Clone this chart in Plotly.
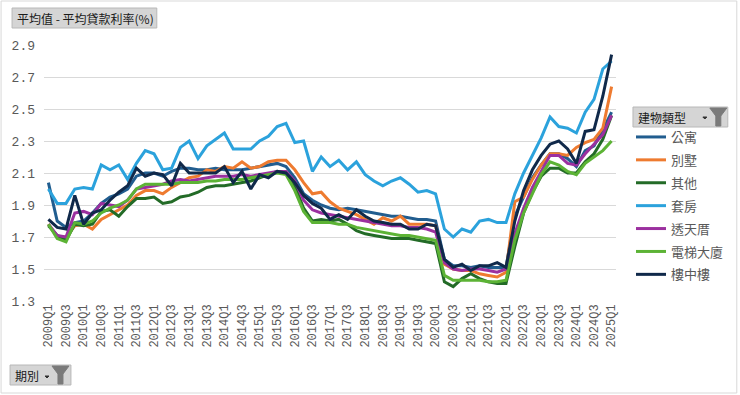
import plotly.graph_objects as go

quarters = [f"{y}Q{q}" for y in range(2009, 2026) for q in range(1, 5)][:65]
tick_labels = quarters[::2]

gongyu = [2.04, 1.80, 1.76, 1.79, 1.80, 1.85, 1.91, 1.95,
          1.97, 2.00, 2.08, 2.10, 2.10, 2.08, 2.11, 2.13,
          2.13, 2.12, 2.12, 2.13, 2.12, 2.12, 2.12, 2.13,
          2.14, 2.15, 2.16, 2.14, 2.07, 1.97, 1.93, 1.90,
          1.88, 1.87, 1.88, 1.87, 1.86, 1.85, 1.84, 1.83,
          1.83, 1.82, 1.81, 1.81, 1.80, 1.56, 1.52, 1.52,
          1.51, 1.52, 1.51, 1.51, 1.51, 1.83, 1.95, 2.07,
          2.15, 2.22, 2.22, 2.19, 2.14, 2.24, 2.27, 2.37,
          2.48]
bieshu = [1.78, 1.70, 1.70, 1.77, 1.78, 1.75, 1.81, 1.84,
          1.87, 1.90, 1.96, 1.99, 1.99, 1.97, 2.01, 2.04,
          2.07, 2.08, 2.12, 2.11, 2.14, 2.13, 2.17, 2.13,
          2.14, 2.17, 2.18, 2.18, 2.12, 2.04, 1.97, 1.98,
          1.92, 1.88, 1.86, 1.84, 1.81, 1.78, 1.82, 1.80,
          1.83, 1.78, 1.78, 1.78, 1.77, 1.53, 1.50, 1.49,
          1.49, 1.47, 1.46, 1.45, 1.48, 1.92, 1.95, 2.06,
          2.15, 2.22, 2.22, 2.21, 2.26, 2.29, 2.31, 2.38,
          2.64]
qita = [1.77, 1.71, 1.68, 1.78, 1.77, 1.78, 1.86, 1.87,
        1.83, 1.89, 1.94, 1.94, 1.95, 1.91, 1.92, 1.95,
        1.96, 1.98, 2.01, 2.02, 2.02, 2.03, 2.04, 2.05,
        2.07, 2.09, 2.11, 2.10, 2.02, 1.88, 1.80, 1.81,
        1.80, 1.81, 1.78, 1.74, 1.72, 1.71, 1.70, 1.69,
        1.69, 1.69, 1.68, 1.67, 1.66, 1.42, 1.39, 1.44,
        1.47, 1.44, 1.42, 1.41, 1.41, 1.64, 1.85, 1.98,
        2.08, 2.13, 2.13, 2.10, 2.10, 2.17, 2.22, 2.31,
        2.46]
taofang = [2.00, 1.91, 1.91, 2.00, 2.01, 2.00, 2.15, 2.12,
           2.15, 2.06, 2.16, 2.24, 2.22, 2.12, 2.13, 2.26,
           2.30, 2.19, 2.27, 2.31, 2.35, 2.25, 2.25, 2.25,
           2.30, 2.33, 2.39, 2.41, 2.29, 2.30, 2.11, 2.20,
           2.14, 2.18, 2.12, 2.17, 2.09, 2.05, 2.02, 2.05,
           2.07, 2.03, 1.98, 1.99, 1.97, 1.75, 1.70, 1.75,
           1.73, 1.80, 1.81, 1.79, 1.79, 1.97, 2.10, 2.21,
           2.32, 2.45, 2.39, 2.38, 2.35, 2.48, 2.56, 2.75,
           2.80]
toutiancuo = [1.78, 1.71, 1.70, 1.85, 1.86, 1.84, 1.91, 1.90,
              1.89, 1.93, 2.00, 2.01, 2.02, 2.03, 2.05, 2.06,
              2.05, 2.06, 2.07, 2.08, 2.08, 2.08, 2.09, 2.08,
              2.09, 2.10, 2.11, 2.11, 2.05, 1.93, 1.87, 1.85,
              1.84, 1.83, 1.82, 1.81, 1.80, 1.79, 1.78, 1.77,
              1.77, 1.76, 1.76, 1.75, 1.73, 1.54, 1.50, 1.49,
              1.50, 1.50, 1.49, 1.48, 1.50, 1.72, 1.88, 2.01,
              2.11, 2.21, 2.21, 2.16, 2.15, 2.22, 2.28, 2.34,
              2.46]
dianti = [1.78, 1.69, 1.67, 1.79, 1.78, 1.80, 1.85, 1.88,
          1.90, 1.93, 2.00, 2.03, 2.03, 2.03, 2.03, 2.04,
          2.04, 2.04, 2.05, 2.05, 2.06, 2.06, 2.06, 2.07,
          2.08, 2.09, 2.10, 2.09, 1.99, 1.86, 1.79, 1.79,
          1.79, 1.78, 1.78, 1.76, 1.75, 1.74, 1.73, 1.72,
          1.71, 1.71, 1.70, 1.69, 1.68, 1.46, 1.43, 1.43,
          1.43, 1.43, 1.42, 1.42, 1.43, 1.68, 1.85, 1.97,
          2.09, 2.17, 2.15, 2.11, 2.09, 2.16, 2.20, 2.24,
          2.30]
louzhonglou = [1.81, 1.76, 1.75, 1.96, 1.78, 1.85, 1.87, 1.93,
               1.98, 2.02, 2.13, 2.08, 2.10, 2.09, 2.02, 2.16,
               2.10, 2.10, 2.10, 2.10, 2.14, 2.04, 2.11, 2.00,
               2.09, 2.07, 2.11, 2.10, 2.04, 1.96, 1.91, 1.88,
               1.81, 1.84, 1.81, 1.87, 1.83, 1.80, 1.79, 1.78,
               1.78, 1.75, 1.75, 1.78, 1.77, 1.56, 1.51, 1.53,
               1.49, 1.52, 1.52, 1.54, 1.51, 1.80, 1.99, 2.12,
               2.21, 2.28, 2.30, 2.25, 2.16, 2.36, 2.37, 2.58,
               2.84]

series_names = ["公寓", "別墅", "其他", "套房", "透天厝", "電梯大廈", "樓中樓"]
series_values = [gongyu, bieshu, qita, taofang, toutiancuo, dianti, louzhonglou]
series_colors = ["#215d8f", "#ee7b30", "#236b27", "#2ba2dc", "#9b309f", "#5cb335", "#10294a"]

# plot-area pixel geometry helpers (figure 740x395)
L, R, T, B = 44, 617, 45, 301


def PX(x):
    return (x - L) / (R - L)


def PY(y):
    return (B - y) / (B - T)


fig = go.Figure()
for name, vals, col in zip(series_names, series_values, series_colors):
    fig.add_trace(go.Scatter(x=quarters, y=vals, name=name, mode="lines",
                             legendgroup=name,
                             line=dict(color=col, width=3)))

mono = "Liberation Mono"
cjk = "Noto Sans CJK TC"

shapes = []
# outer frame
shapes.append(dict(type="rect", xref="paper", yref="paper",
                   x0=PX(1), x1=PX(738), y0=PY(1), y1=PY(393),
                   line=dict(color="#d9d9d9", width=1), fillcolor="rgba(0,0,0,0)",
                   layer="below"))
# title button
shapes.append(dict(type="rect", xref="paper", yref="paper",
                   x0=PX(12), x1=PX(157), y0=PY(8), y1=PY(28),
                   line=dict(color="#b8b8b8", width=1), fillcolor="#d5d5d5",
                   layer="above"))
# legend title button
shapes.append(dict(type="rect", xref="paper", yref="paper",
                   x0=PX(634), x1=PX(729), y0=PY(107), y1=PY(127),
                   line=dict(color="#b8b8b8", width=1), fillcolor="#d5d5d5",
                   layer="above"))
# bottom-left 期別 button
shapes.append(dict(type="rect", xref="paper", yref="paper",
                   x0=PX(10), x1=PX(71), y0=PY(365), y1=PY(385),
                   line=dict(color="#b8b8b8", width=1), fillcolor="#d5d5d5",
                   layer="above"))


def funnel(x, y):
    pts = [(x, y), (x + 17, y), (x + 11, y + 8), (x + 11, y + 18),
           (x + 6, y + 18), (x + 6, y + 8)]
    d = "M " + " L ".join(f"{PX(a)},{PY(b)}" for a, b in pts) + " Z"
    return dict(type="path", xref="paper", yref="paper", path=d,
                fillcolor="#7a7a7a", line=dict(color="#7a7a7a", width=1), layer="above")


def arrow(x, y):
    pts = [(x, y), (x + 4, y), (x + 2, y + 2)]
    d = "M " + " L ".join(f"{PX(a)},{PY(b)}" for a, b in pts) + " Z"
    return dict(type="path", xref="paper", yref="paper", path=d,
                fillcolor="#303030", line=dict(color="#303030", width=1), layer="above")


shapes.append(funnel(711, 108))
shapes.append(arrow(704, 117))
shapes.append(funnel(52, 366))
shapes.append(arrow(45, 376))

annotations = [
    dict(text="平均值 - 平均貸款利率(%)", xref="paper", yref="paper",
         x=PX(15), y=PY(18), xanchor="left", yanchor="middle", showarrow=False,
         font=dict(family=cjk, size=12, color="#1a1a1a")),
    dict(text="建物類型", xref="paper", yref="paper",
         x=PX(637), y=PY(117), xanchor="left", yanchor="middle", showarrow=False,
         font=dict(family=cjk, size=12, color="#1a1a1a")),
    dict(text="期別", xref="paper", yref="paper",
         x=PX(13), y=PY(375), xanchor="left", yanchor="middle", showarrow=False,
         font=dict(family=cjk, size=12, color="#1a1a1a")),
]

fig.update_layout(
    width=740, height=395,
    margin=dict(l=L, r=740 - R, t=T, b=395 - B),
    paper_bgcolor="white", plot_bgcolor="white",
    showlegend=True,
    legend=dict(x=PX(631), y=PY(122), xanchor="left", yanchor="top",
                font=dict(family=cjk, size=13, color="#595959"),
                bgcolor="rgba(0,0,0,0)", itemwidth=30, tracegroupgap=3,
                itemclick=False, itemdoubleclick=False),
    shapes=shapes,
    annotations=annotations,
    xaxis=dict(type="category", categoryorder="array", categoryarray=quarters,
               range=[-0.5, 64.5], tickmode="array", tickvals=tick_labels,
               ticktext=tick_labels, tickangle=-90, showgrid=False,
               showline=False, zeroline=False, ticks="",
               tickfont=dict(family=mono, size=12, color="#595959")),
    yaxis=dict(range=[1.3, 2.9], dtick=0.2, tick0=1.3, tickformat=".1f",
               showgrid=True, gridcolor="#d9d9d9", gridwidth=1,
               zeroline=False, showline=False, ticks="",
               ticklabelstandoff=8,
               tickfont=dict(family=mono, size=13, color="#595959")),
)

fig.write_html("out.html", config={"displayModeBar": False},
               post_script="document.body.style.margin='0';document.body.style.overflow='hidden';")
